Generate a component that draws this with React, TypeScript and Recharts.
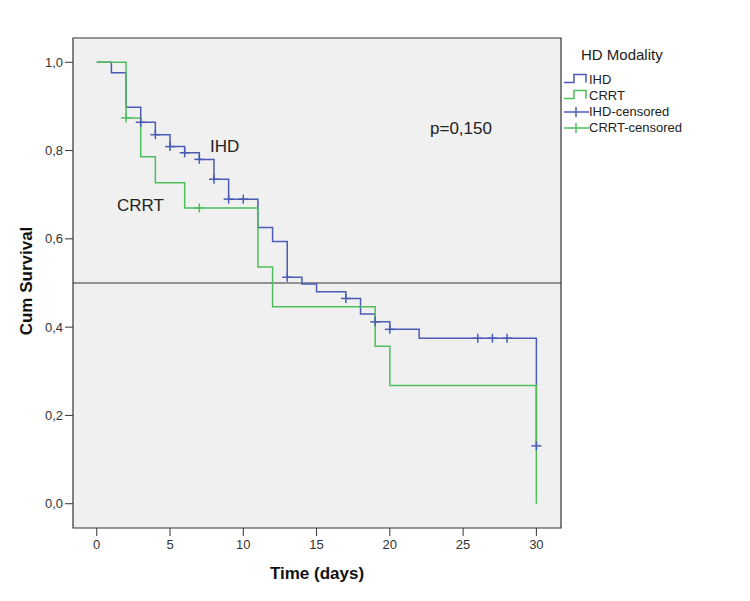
import {
  ComposedChart, Line, Scatter, XAxis, YAxis, ReferenceLine, ReferenceArea, Label,
} from "recharts";

const BLUE = "#4a5cb5";
const GREEN = "#4fbf5c";
const INK = "#333";
const FONT = "'Liberation Sans', Arial, sans-serif";

const xTicks = [0, 5, 10, 15, 20, 25, 30];
const yTicks = [0, 0.2, 0.4, 0.6, 0.8, 1.0];

// IHD: step curve (time in days, cumulative survival)
const ihdTime = [0, 1, 2, 3, 4, 5, 6, 7, 8, 9, 11, 12, 13, 14, 15, 17, 18, 19, 20, 22, 30];
const ihdSurv = [1.0, 0.976, 0.898, 0.864, 0.836, 0.809, 0.795, 0.78, 0.735, 0.69, 0.626, 0.594, 0.513, 0.498, 0.48, 0.465, 0.43, 0.412, 0.395, 0.375, 0.131];
const ihdCensorTime = [3, 4, 5, 6, 7, 8, 9, 10, 13, 17, 19, 20, 26, 27, 28, 30];
const ihdCensorSurv = [0.864, 0.836, 0.809, 0.795, 0.78, 0.735, 0.69, 0.69, 0.513, 0.465, 0.412, 0.395, 0.375, 0.375, 0.375, 0.131];

// CRRT
const crrtTime = [0, 2, 3, 4, 6, 11, 12, 19, 20, 30];
const crrtSurv = [1.0, 0.874, 0.786, 0.727, 0.67, 0.536, 0.446, 0.357, 0.268, 0];
const crrtCensorTime = [2, 7];
const crrtCensorSurv = [0.874, 0.67];

const zip = (t: number[], s: number[]) => t.map((v, i) => ({ t: v, s: s[i] }));
const ihdLine = zip(ihdTime, ihdSurv);
const ihdCens = zip(ihdCensorTime, ihdCensorSurv);
const crrtLine = zip(crrtTime, crrtSurv);
const crrtCens = zip(crrtCensorTime, crrtCensorSurv);

const X_DOMAIN: [number, number] = [-1.62, 31.68];
const Y_DOMAIN: [number, number] = [-0.055, 1.055];

const plus = (color: string) => (p: any) => (
  <g stroke={color} strokeWidth={1.5}>
    <line x1={p.cx - 5} x2={p.cx + 5} y1={p.cy} y2={p.cy} />
    <line x1={p.cx} x2={p.cx} y1={p.cy - 4.5} y2={p.cy + 4.5} />
  </g>
);

const legendRows = [
  { name: "IHD", color: BLUE, kind: "step" },
  { name: "CRRT", color: GREEN, kind: "step" },
  { name: "IHD-censored", color: BLUE, kind: "cens" },
  { name: "CRRT-censored", color: GREEN, kind: "cens" },
];

// legend sits outside the plot frame, SPSS style
function KmLegend() {
  return (
    <div style={{ position: "absolute", left: 562, top: 44, fontFamily: FONT, color: "#222", width: 180, height: 100 }}>
      <div style={{ position: "absolute", left: 19, top: 0, fontSize: 15, lineHeight: "22px" }}>HD Modality</div>
      {legendRows.map((r, i) => (
        <div key={r.name} style={{ position: "absolute", left: 2, top: 27.5 + i * 16, height: 16, display: "flex", alignItems: "center" }}>
          <svg width={25} height={16} style={{ display: "block" }}>
            {r.kind === "step" ? (
              <path d="M0,10.5 H10 V2.5 H22 V10.5" fill="none" stroke={r.color} strokeWidth={1.5} />
            ) : (
              <g stroke={r.color} strokeWidth={1.5}>
                <line x1={0} x2={25} y1={8} y2={8} />
                <line x1={12} x2={12} y1={3} y2={13} />
              </g>
            )}
          </svg>
          <span style={{ fontSize: 13, lineHeight: "16px", whiteSpace: "nowrap" }}>{r.name}</span>
        </div>
      ))}
    </div>
  );
}

const tickStyle = { fontSize: 13, fill: INK, fontFamily: FONT };
const noteStyle = { position: "absolute" as const, fontSize: 17, lineHeight: "20px", fontFamily: FONT, color: "#222" };

export default function App() {
  return (
    <div style={{ position: "absolute", left: 0, top: 0, width: 750, height: 601, background: "#fff" }}>
      <ComposedChart width={750} height={601} margin={{ top: 38, right: 189, bottom: 43, left: 0 }}>
        <XAxis
          type="number" dataKey="t" domain={X_DOMAIN} ticks={xTicks} allowDataOverflow
          axisLine={false} tickLine={{ stroke: INK }} tickSize={8} tickMargin={4}
          tick={tickStyle} height={30}
        >
          <Label value="Time (days)" position="bottom" offset={9}
            style={{ fontSize: 17, fontWeight: "bold", fill: "#111", fontFamily: FONT }} />
        </XAxis>
        <YAxis
          type="number" dataKey="s" domain={Y_DOMAIN} ticks={yTicks} allowDataOverflow
          axisLine={false} tickLine={{ stroke: INK }} tickSize={8} tickMargin={2}
          tick={tickStyle} width={73}
          tickFormatter={(v: number) => v.toFixed(1).replace(".", ",")}
        >
          <Label
            content={() => (
              <text x={26} y={281} transform="rotate(-90 26 281)" textAnchor="middle" dominantBaseline="central"
                style={{ fontSize: 17, fontWeight: "bold", fill: "#111", fontFamily: FONT }}>
                Cum Survival
              </text>
            )}
          />
        </YAxis>
        <ReferenceArea x1={X_DOMAIN[0]} x2={X_DOMAIN[1]} y1={Y_DOMAIN[0]} y2={Y_DOMAIN[1]}
          fill="#f0f0f0" fillOpacity={1} stroke={INK} strokeWidth={1.2} />
        <ReferenceLine y={0.5} stroke={INK} strokeWidth={1.2} />
        <Line data={ihdLine} dataKey="s" type="stepAfter" stroke={BLUE} strokeWidth={1.5} dot={false} isAnimationActive={false} />
        <Line data={crrtLine} dataKey="s" type="stepAfter" stroke={GREEN} strokeWidth={1.5} dot={false} isAnimationActive={false} />
        <Scatter data={ihdCens} dataKey="s" shape={plus(BLUE)} isAnimationActive={false} />
        <Scatter data={crrtCens} dataKey="s" shape={plus(GREEN)} isAnimationActive={false} />
      </ComposedChart>
      <KmLegend />
      <span style={{ ...noteStyle, left: 210, top: 137 }}>IHD</span>
      <span style={{ ...noteStyle, left: 117, top: 196 }}>CRRT</span>
      <span style={{ ...noteStyle, left: 430, top: 119 }}>p=0,150</span>
    </div>
  );
}
